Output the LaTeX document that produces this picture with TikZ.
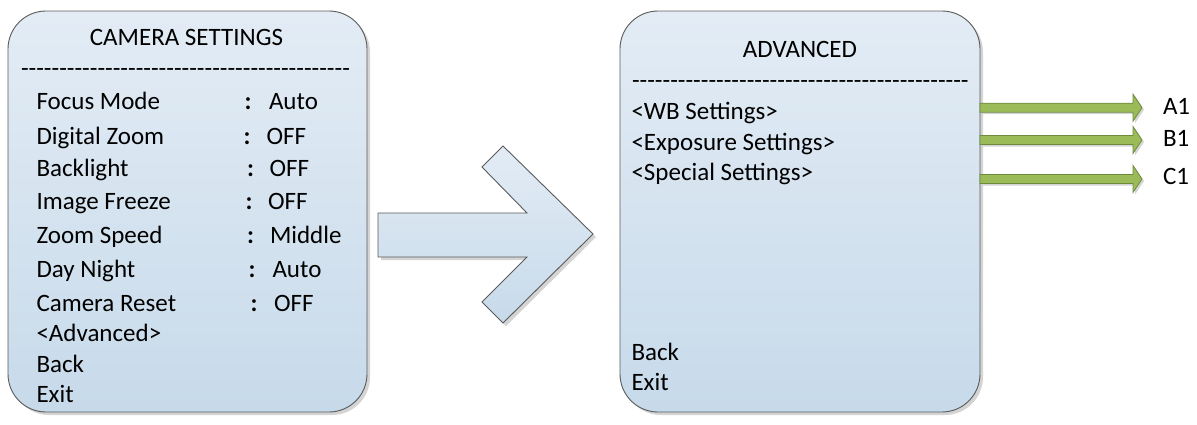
\documentclass[tikz,border=0pt]{standalone}
\usepackage{fontspec}
\setmainfont{Carlito}
\usetikzlibrary{shadows}
\definecolor{boxtop}{HTML}{E3ECF5}
\definecolor{boxbot}{HTML}{C7DAEA}
\definecolor{edgec}{HTML}{5A5A5A}
\definecolor{shadowc}{HTML}{D4D4D4}
\definecolor{grfill}{HTML}{9BBB59}
\definecolor{gredge}{HTML}{6E8A3C}
\newcommand\hyrow[1]{\foreach \i in {1,...,#1}{-\kern0pt}}
\begin{document}
\begin{tikzpicture}[x=1pt,y=-1pt,
  panel/.style={draw=edgec, line width=0.9pt, rounded corners=38pt,
    top color=boxtop, bottom color=boxbot, inner sep=0pt, outer sep=0pt,
    anchor=north west,
    drop shadow={shadow xshift=3pt, shadow yshift=-3pt, fill=shadowc, opacity=1}},
  txt/.style={anchor=base west, inner sep=0pt, outer sep=0pt, font=\fontsize{25}{30}\selectfont},
  ttl/.style={anchor=base, inner sep=0pt, outer sep=0pt, font=\fontsize{25}{30}\selectfont},
  colon/.style={txt, font=\fontsize{25}{30}\selectfont\bfseries},
  bigarrow/.style={draw=edgec, line width=0.9pt, top color=boxtop, bottom color=boxbot,
    drop shadow={shadow xshift=3pt, shadow yshift=-3pt, fill=shadowc, opacity=1}},
  grarrow/.style={draw=gredge, line width=0.8pt, fill=grfill,
    drop shadow={shadow xshift=2pt, shadow yshift=-2pt, fill=shadowc, opacity=1}}
]
\useasboundingbox (0,0) rectangle (1197,424);

% panels
\node[panel, minimum width=359pt, minimum height=401pt] (cam) at (8,11) {};
\node[panel, minimum width=360pt, minimum height=401pt] (adv) at (620,11) {};

% big transition arrow
\draw[bigarrow] (378,213) -- (527,213) -- (482,167) -- (503,146) -- (593,234)
  -- (503,323) -- (482,302) -- (527,257) -- (378,257) -- cycle;

% left panel texts
\node[ttl] (camT) at (186.5,45.7) {CAMERA SETTINGS};
\node[txt] (camD) at (21,76) {\hyrow{43}};
\node[txt] (l1) at (36.5,109.7) {Focus Mode};
\node[colon] (c1) at (244.7,109.7) {:};
\node[txt] (v1) at (269,109.7) {Auto};
\node[txt] (l2) at (36.5,144) {Digital Zoom};
\node[colon] (c2) at (243.7,144) {:};
\node[txt] (v2) at (266.5,144) {OFF};
\node[txt] (l3) at (36.5,176) {Backlight};
\node[colon] (c3) at (247,176) {:};
\node[txt] (v3) at (269.5,176) {OFF};
\node[txt] (l4) at (36.5,209.7) {Image Freeze};
\node[colon] (c4) at (245.7,209.7) {:};
\node[txt] (v4) at (268,209.7) {OFF};
\node[txt] (l5) at (36.5,243) {Zoom Speed};
\node[colon] (c5) at (247,243) {:};
\node[txt] (v5) at (270,243) {Middle};
\node[txt] (l6) at (36.5,277) {Day Night};
\node[colon] (c6) at (248.7,277) {:};
\node[txt] (v6) at (272.5,277) {Auto};
\node[txt] (l7) at (36.5,311) {Camera Reset};
\node[colon] (c7) at (250.7,311) {:};
\node[txt] (v7) at (274,311) {OFF};
\node[txt] (l8) at (36.5,341) {<Advanced>};
\node[txt] (l9) at (36.5,372) {Back};
\node[txt] (l10) at (36.5,402) {Exit};

% right panel texts
\node[ttl] (advT) at (800,57.3) {ADVANCED};
\node[txt] (advD) at (632,88) {\hyrow{44}};
\node[txt] (r1) at (631.5,119) {<WB Settings>};
\node[txt] (r2) at (631.5,150) {<Exposure Settings>};
\node[txt] (r3) at (631.5,180) {<Special Settings>};
\node[txt] (r4) at (631.5,360) {Back};
\node[txt] (r5) at (631.5,390) {Exit};

% outputs
\node[txt] (A1) at (1163,114) {A1};
\node[txt] (B1) at (1163,146) {B1};
\node[txt] (C1) at (1163,184) {C1};

\coordinate (sa) at (adv.east |- 0,107.7);
\coordinate (sb) at (adv.east |- 0,140);
\coordinate (sc) at (adv.east |- 0,179);
\foreach \s in {sa,sb,sc}{
  \draw[grarrow] (\s) ++(0,-4.5) -- ++(153,0) -- ++(0,-9) -- ++(9,13.5)
    -- ++(-9,13.5) -- ++(0,-9) -- ++(-153,0) -- cycle;
}
\end{tikzpicture}
\end{document}
